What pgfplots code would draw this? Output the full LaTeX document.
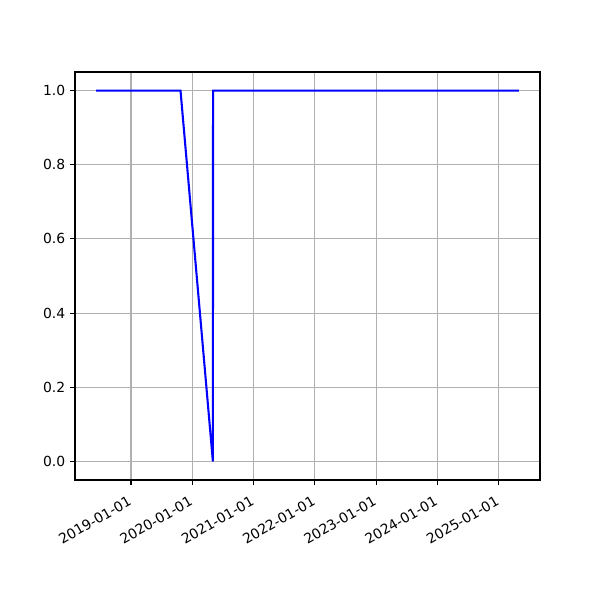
\documentclass[border=0pt]{standalone}
\usepackage{pgfplots}
\pgfplotsset{compat=1.18}
\usepackage{fontspec}
\setmainfont{DejaVu Sans}
\begin{document}
\begin{tikzpicture}
\path[use as bounding box] (-54pt,-86.4pt) rectangle (378pt,345.6pt);
\begin{axis}[
  at={(0,0)}, anchor=south west,
  scale only axis, width=334.8pt, height=293.76pt,
  xmin=-334, xmax=2438, ymin=-0.05, ymax=1.05,
  xtick={0,365,731,1096,1461,1826,2192},
  xticklabels={2019-01-01,2020-01-01,2021-01-01,2022-01-01,2023-01-01,2024-01-01,2025-01-01},
  xticklabel style={rotate=30, anchor=north east, inner sep=1pt, xshift=-5pt, yshift=-4pt},
  ytick={0,0.2,0.4,0.6,0.8,1.0},
  yticklabel style={/pgf/number format/fixed, /pgf/number format/fixed zerofill, /pgf/number format/precision=1},
  /pgf/number format/assume math mode=true,
  tick label style={font=\fontsize{10}{12}\selectfont},
  grid=major,
  major grid style={color=black!31, line width=0.8pt},
  tick align=outside, tick pos=left,
  major tick length=3.5pt,
  every tick/.style={black, line width=0.8pt},
  axis line style={line width=0.8pt},
  scaled x ticks=false,
]
\addplot[color=blue, line width=1.5pt, mark=none] coordinates {
(-208,1) (295,1) (488,0) (489,1) (2312,1)
};
\end{axis}
\end{tikzpicture}
\end{document}
